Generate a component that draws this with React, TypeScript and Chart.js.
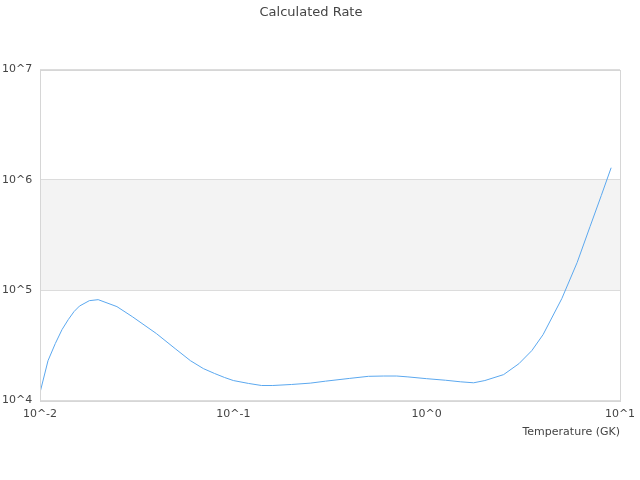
import React, { useEffect, useRef } from "react";
import { Chart, registerables } from "chart.js";

Chart.register(...registerables);

const temperatures = [
  0.01, 0.011, 0.012, 0.013, 0.014, 0.015, 0.016, 0.018, 0.02, 0.025, 0.03,
  0.04, 0.05, 0.06, 0.07, 0.08, 0.09, 0.1, 0.12, 0.14, 0.16, 0.2, 0.25, 0.3,
  0.4, 0.5, 0.6, 0.7, 0.8, 1.0, 1.25, 1.5, 1.75, 2.0, 2.5, 3.0, 3.5, 4.0, 5.0,
  6.0, 7.0, 8.0, 9.0,
];

const rates = [
  1.18e4, 2.3e4, 3.29e4, 4.4e4, 5.42e4, 6.41e4, 7.19e4, 8.05e4, 8.22e4,
  7.11e4, 5.77e4, 4.05e4, 2.96e4, 2.3e4, 1.95e4, 1.76e4, 1.62e4, 1.52e4,
  1.43e4, 1.37e4, 1.37e4, 1.4e4, 1.44e4, 1.5e4, 1.59e4, 1.66e4, 1.67e4,
  1.67e4, 1.64e4, 1.58e4, 1.53e4, 1.48e4, 1.45e4, 1.52e4, 1.72e4, 2.16e4,
  2.84e4, 3.96e4, 8.4e4, 1.78e5, 3.78e5, 7.21e5, 1.29e6,
];

const xTicks = [0.01, 0.1, 1, 10];
const yTicks = [1e4, 1e5, 1e6, 1e7];
const band = [1e5, 1e6];

const titleText = "Calculated Rate";
const xTitle = "Temperature (GK)";

const powLabel = (v: number) => `10^${Math.round(Math.log10(v))}`;

const framePlugin = {
  id: "frame",
  beforeDraw(chart: any) {
    const { ctx, chartArea, scales } = chart;
    const y1 = scales.y.getPixelForValue(band[1]);
    const y0 = scales.y.getPixelForValue(band[0]);
    ctx.save();
    ctx.fillStyle = "#f3f3f3";
    ctx.fillRect(chartArea.left, y1, chartArea.right - chartArea.left, y0 - y1);
    ctx.restore();
  },
  afterDraw(chart: any) {
    const { ctx, chartArea } = chart;
    ctx.save();
    ctx.strokeStyle = "#d6d6d6";
    ctx.lineWidth = 1;
    ctx.strokeRect(
      Math.round(chartArea.left) + 0.5,
      Math.round(chartArea.top) + 0.5,
      Math.round(chartArea.right - chartArea.left),
      Math.round(chartArea.bottom - chartArea.top)
    );
    ctx.restore();
  },
};

export default function App() {
  const ref = useRef<HTMLCanvasElement | null>(null);

  useEffect(() => {
    if (!ref.current) return;
    Chart.defaults.font.family = "'DejaVu Sans', sans-serif";
    const chart = new Chart(ref.current, {
      type: "line",
      data: {
        datasets: [
          {
            data: temperatures.map((t, i) => ({ x: t, y: rates[i] })),
            borderColor: "#5ba8ef",
            borderWidth: 1,
            pointRadius: 0,
            tension: 0,
            fill: false,
          },
        ],
      },
      options: {
        animation: false,
        responsive: false,
        maintainAspectRatio: false,
        layout: { padding: { left: 2, right: 20, top: 0, bottom: 41 } },
        plugins: {
          legend: { display: false },
          tooltip: { enabled: false },
          title: {
            display: true,
            text: titleText,
            color: "#444",
            font: { size: 13, weight: "normal" },
            padding: { top: 5, bottom: 49 },
          },
        },
        scales: {
          x: {
            type: "logarithmic",
            min: 0.01,
            max: 10,
            afterBuildTicks: (s: any) => {
              s.ticks = xTicks.map((v) => ({ value: v }));
            },
            afterFit: (s: any) => {
              s.paddingLeft = 0;
              s.paddingRight = 0;
            },
            grid: { display: false, drawTicks: false },
            border: { display: false },
            ticks: {
              color: "#444",
              font: { size: 11 },
              padding: 7,
              maxRotation: 0,
              autoSkip: false,
              callback: (v: any) => powLabel(Number(v)),
            },
            title: {
              display: true,
              text: xTitle,
              align: "end",
              color: "#444",
              font: { size: 11 },
              padding: { top: -2, bottom: 0 },
            },
          },
          y: {
            type: "logarithmic",
            min: 1e4,
            max: 1e7,
            afterBuildTicks: (s: any) => {
              s.ticks = yTicks.map((v) => ({ value: v }));
            },
            afterFit: (s: any) => {
              s.width = 38;
            },
            grid: { color: "#dcdcdc", drawTicks: false },
            border: { display: false },
            ticks: {
              color: "#444",
              font: { size: 11 },
              crossAlign: "far",
              padding: 4,
              autoSkip: false,
              callback: (v: any) => powLabel(Number(v)),
            },
          },
        },
      },
      plugins: [framePlugin],
    } as any);
    return () => chart.destroy();
  }, []);

  return (
    <div style={{ position: "fixed", left: 0, top: 0, width: 640, height: 480, background: "#fff" }}>
      <canvas ref={ref} width={640} height={480} style={{ width: 640, height: 480 }} />
    </div>
  );
}
